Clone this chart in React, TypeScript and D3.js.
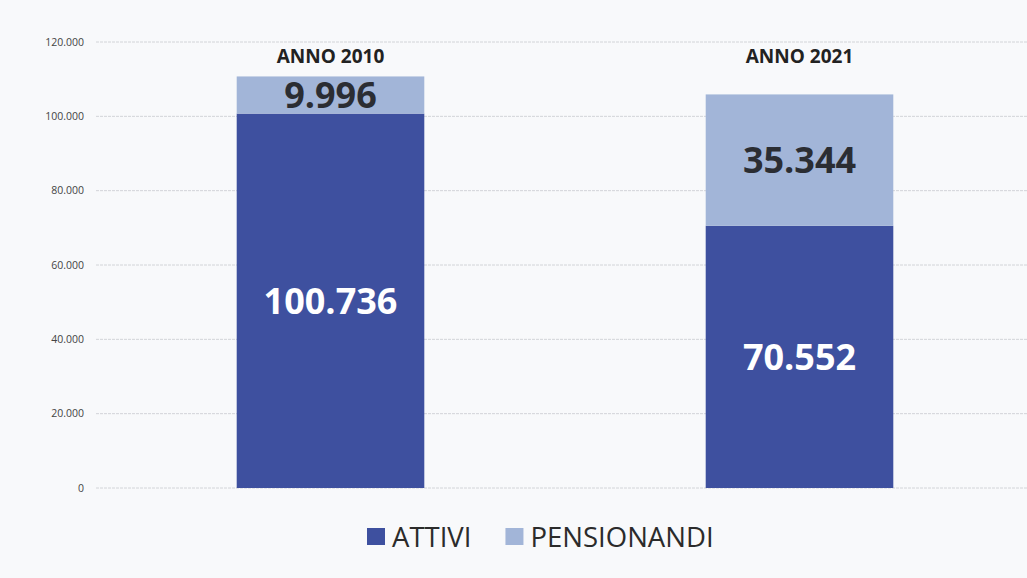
import React, { useEffect, useRef } from 'react';
import * as d3 from 'd3';

const years = ['ANNO 2010', 'ANNO 2021'];
const attivi = [100736, 70552];
const pensionandi = [9996, 35344];
const yTicks = [0, 20000, 40000, 60000, 80000, 100000, 120000];
const seriesNames = ['ATTIVI', 'PENSIONANDI'];

const W = 1027;
const H = 578;

const fmt = (v: number) => d3.format(',')(v).replace(/,/g, '.');

const App = () => {
  const svgRef = useRef<SVGSVGElement>(null);

  useEffect(() => {
    const svg = d3.select(svgRef.current);
    svg.selectAll('*').remove();

    const colors = ['#3e509f', '#a2b5d8'];
    const font = '"Open Sans", sans-serif';

    svg.append('rect').attr('width', W).attr('height', H).attr('fill', '#f8f9fb');

    const x = d3.scaleBand<string>()
      .domain(years)
      .range([96, 1034])
      .paddingInner(0.6)
      .paddingOuter(0.3);

    const y = d3.scaleLinear().domain([0, 120000]).range([488, 42]);

    // grid + tick labels
    const grid = svg.append('g');
    yTicks.forEach(t => {
      grid.append('line')
        .attr('x1', 96).attr('x2', W)
        .attr('y1', y(t)).attr('y2', y(t))
        .attr('stroke', '#d2d4d8')
        .attr('stroke-width', 1)
        .attr('stroke-dasharray', '3,1');
      grid.append('text')
        .attr('x', 84).attr('y', y(t))
        .attr('dy', '0.35em')
        .attr('text-anchor', 'end')
        .attr('font-family', font)
        .attr('font-size', 10.5)
        .attr('fill', '#444')
        .text(fmt(t));
    });

    // stacked bars
    const rows = years.map((yr, i) => ({ year: yr, ATTIVI: attivi[i], PENSIONANDI: pensionandi[i] }));
    const stack = d3.stack<any>().keys(seriesNames)(rows);

    stack.forEach((layer, si) => {
      layer.forEach(d => {
        const yr = d.data.year;
        svg.append('rect')
          .attr('x', x(yr)!)
          .attr('width', x.bandwidth())
          .attr('y', y(d[1]))
          .attr('height', y(d[0]) - y(d[1]))
          .attr('fill', colors[si]);
        svg.append('text')
          .attr('x', x(yr)! + x.bandwidth() / 2)
          .attr('y', (y(d[0]) + y(d[1])) / 2)
          .attr('dy', '0.36em')
          .attr('text-anchor', 'middle')
          .attr('font-family', font)
          .attr('font-weight', 700)
          .attr('font-size', 36)
          .attr('fill', si === 0 ? '#ffffff' : '#2b2d33')
          .text(fmt(d[1] - d[0]));
      });
    });

    // category labels above bars
    years.forEach(yr => {
      svg.append('text')
        .attr('x', x(yr)! + x.bandwidth() / 2)
        .attr('y', 63)
        .attr('text-anchor', 'middle')
        .attr('font-family', font)
        .attr('font-weight', 700)
        .attr('font-size', 19)
        .attr('fill', '#222')
        .text(yr);
    });

    // legend
    const lg = svg.append('g').attr('transform', 'translate(367,537)');
    let lx = 0;
    seriesNames.forEach((name, i) => {
      lg.append('rect')
        .attr('x', lx).attr('y', -9)
        .attr('width', 18).attr('height', 17)
        .attr('fill', colors[i]);
      const txt = lg.append('text')
        .attr('x', lx + 25).attr('y', 0)
        .attr('dy', '0.36em')
        .attr('font-family', font)
        .attr('font-size', 27.5)
        .attr('fill', '#2b2b2b')
        .text(name);
      const w = (txt.node() as SVGTextElement).getComputedTextLength();
      lx += 25 + w + 34;
    });
  }, []);

  return (
    <div style={{ position: 'fixed', left: 0, top: 0, width: W, height: H }}>
      <svg ref={svgRef} width={W} height={H} viewBox={`0 0 ${W} ${H}`} />
    </div>
  );
};

export default App;
